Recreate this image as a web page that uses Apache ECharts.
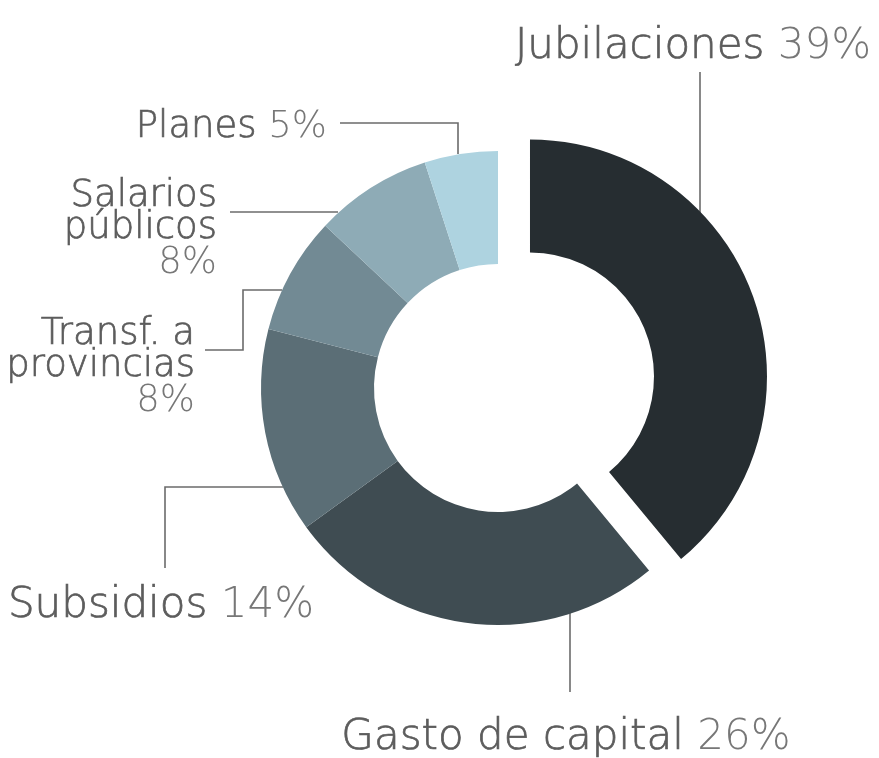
<!DOCTYPE html>
<html>
<head>
<meta charset="utf-8">
<script src="https://cdn.jsdelivr.net/npm/echarts@6/dist/echarts.min.js"></script>
<style>
  html, body { margin: 0; padding: 0; background: #fff; }
  #chart { width: 879px; height: 758px; }
</style>
</head>
<body>
<div id="chart"></div>
<script>
// datos
var categories = ['Jubilaciones', 'Gasto de capital', 'Subsidios', 'Transf. a provincias', 'Salarios públicos', 'Planes'];
var labelNames = ['Jubilaciones', 'Gasto de capital', 'Subsidios', 'Transf. a\nprovincias', 'Salarios\npúblicos', 'Planes'];
var values = [39, 26, 14, 8, 8, 5];
var colors = ['#262d31', '#3f4c52', '#5b6e76', '#728a94', '#8eabb6', '#aed3e0'];
// etiquetas grandes / porcentaje en otra línea
var bigLabel = [true, true, true, false, false, false];
var pctOnNewLine = [false, false, false, true, true, false];

// posiciones de etiquetas y líneas guía
var labelPlace = [
  {x: 693, y: 47, align: 'center', line: [[700, 222], [700, 72]]},
  {x: 566, y: 738, align: 'center', line: [[570, 612], [570, 692]]},
  {x: 161, y: 606, align: 'center', line: [[283, 487], [165, 487], [165, 568]]},
  {x: 195, y: 369, align: 'right', line: [[282, 290], [243, 290], [243, 350], [205, 350]]},
  {x: 217, y: 231, align: 'right', line: [[338, 212], [230, 212]]},
  {x: 327, y: 127, align: 'right', line: [[458, 154], [458, 123], [340, 123]]}
];

var CENTER = [498, 388];
var OFFSET = 34;
var total = values.reduce(function (a, b) { return a + b; }, 0);
var midAngle = values[0] / total * Math.PI; // desde arriba, sentido horario
var explodedCenter = [CENTER[0] + OFFSET * Math.sin(midAngle), CENTER[1] - OFFSET * Math.cos(midAngle)];

var FONT = '"DejaVu Sans", sans-serif';

function makeData(visible) {
  return categories.map(function (name, i) {
    var show = visible(i);
    return {
      name: name,
      value: values[i],
      itemStyle: {color: show ? colors[i] : 'rgba(0,0,0,0)'},
      label: {show: show},
      labelLine: {show: show}
    };
  });
}

function labelFormatter(p) {
  var i = p.dataIndex;
  var s = bigLabel[i] ? 'N' : 'n';
  var t = bigLabel[i] ? 'P' : 'p';
  var lines = labelNames[i].split('\n');
  var name = lines.map(function (l, k) {
    var last = k === lines.length - 1;
    return '{' + s + '|' + l + (last && !pctOnNewLine[i] ? ' ' : '') + '}';
  }).join('\n');
  return name + (pctOnNewLine[i] ? '\n' : '') + '{' + t + '|' + values[i] + '%}';
}

var baseSeries = {
  type: 'pie',
  radius: [124, 237],
  startAngle: 90,
  clockwise: true,
  silent: true,
  avoidLabelOverlap: false,
  emphasis: {disabled: true},
  label: {
    fontFamily: FONT,
    formatter: labelFormatter,
    rich: {
      N: {fontSize: 42, color: '#5c5c5c', fontWeight: 200, lineHeight: 44, fontFamily: FONT, textBorderColor: '#5c5c5c', textBorderWidth: 0.7},
      P: {fontSize: 42, color: '#777777', fontWeight: 200, lineHeight: 44, fontFamily: FONT},
      n: {fontSize: 37, color: '#5c5c5c', fontWeight: 200, lineHeight: 32, fontFamily: FONT, textBorderColor: '#5c5c5c', textBorderWidth: 0.7},
      p: {fontSize: 37, color: '#777777', fontWeight: 200, lineHeight: 38, fontFamily: FONT}
    }
  },
  labelLine: {
    lineStyle: {color: '#6b6b6b', width: 1.6}
  },
  labelLayout: function (params) {
    var lp = labelPlace[params.dataIndex];
    return {
      x: lp.x,
      y: lp.y,
      align: lp.align,
      verticalAlign: 'middle',
      labelLinePoints: lp.line
    };
  }
};

var chart = echarts.init(document.getElementById('chart'));

chart.setOption({
  animation: false,
  series: [
    // porción separada: Jubilaciones
    echarts.util.merge({center: explodedCenter, data: makeData(function (i) { return i === 0; })}, baseSeries),
    // resto de porciones
    echarts.util.merge({center: CENTER, data: makeData(function (i) { return i !== 0; })}, baseSeries)
  ]
});
</script>
</body>
</html>
